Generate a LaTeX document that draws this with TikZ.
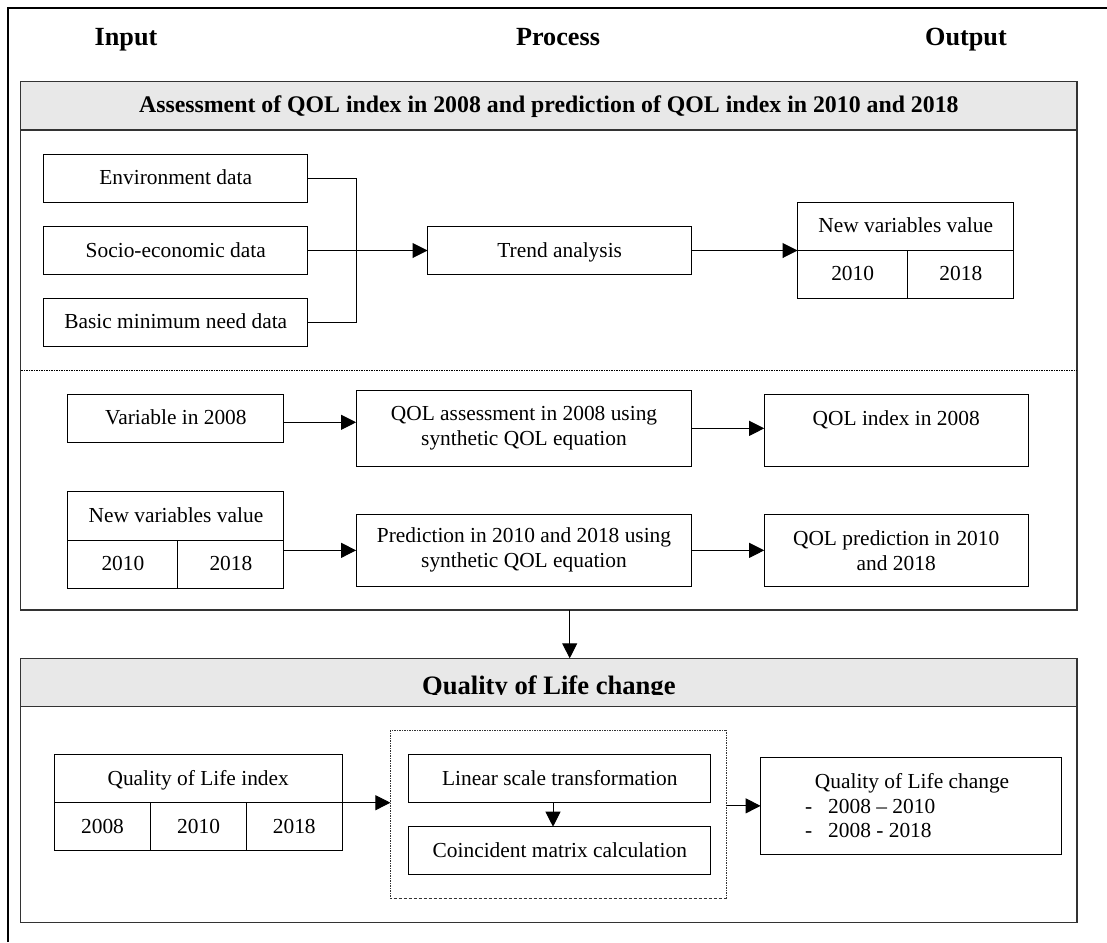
\documentclass[tikz,border=0pt]{standalone}
\usepackage{fontspec}
\setmainfont{Liberation Serif}
\usetikzlibrary{arrows.meta}

\newcommand\bodyfont{\fontsize{10.7pt}{12.5pt}\selectfont}
\newcommand\headfont{\fontsize{13.1pt}{15pt}\selectfont\bfseries}
\newcommand\bandfont{\fontsize{11.9pt}{14pt}\selectfont\bfseries}
\newcommand\bandbigfont{\fontsize{13.3pt}{16pt}\selectfont\bfseries}

\tikzset{
  sz/.style 2 args={minimum width=#1*0.5pt, minimum height=#2*0.5pt},
  cell/.style={draw, line width=0.5pt, inner sep=0pt, outer sep=0pt, font=\bodyfont, text height=0.66em, text depth=0pt},
  multi/.style={draw, line width=0.5pt, inner sep=0pt, outer sep=0pt, font=\bodyfont, align=center},
  section/.style={draw=black!80, line width=0.6pt, inner sep=0pt, outer sep=0pt},
  band/.style={section, fill=black!9},
  flow/.style={-{Triangle[length=7.5pt,width=7.5pt]}, line width=0.5pt},
  dashdot/.style={line width=0.5pt, dash pattern=on 1pt off 0.6pt on 0.3pt off 0.6pt},
}

\begin{document}
\begin{tikzpicture}[x=0.5pt, y=-0.5pt]
\useasboundingbox (0,0) rectangle (1107,942);
% 外框
\draw[line width=1pt] (8,942) -- (8,8.3) -- (1107,8.3);
% 列标题
\node[font=\headfont, anchor=base] (inp) at (126,45) {Input};
\node[font=\headfont, anchor=base] (proc) at (558,45) {Process};
\node[font=\headfont, anchor=base] (outp) at (966,45) {Output};

% 第一部分
\node[section, sz={1056.3}{528.3}] (secA) at (548.85,345.85) {};
\node[band, sz={1056.3}{48.3}, font=\bandfont, text height=0.66em, text depth=-2.5pt] (bandA) at (548.85,105.85)
  {Assessment of QOL index in 2008 and prediction of QOL index in 2010 and 2018};
\coordinate (cut) at (0,370.7);
\draw[dashdot] (secA.west |- cut) -- (secA.east |- cut);

% 输入数据
\foreach \nm/\yy/\txt in {env/178.3/Environment data, soc/250.5/Socio-economic data,
                          bmn/322.2/Basic minimum need data}
  \node[cell, sz={264.3}{48}] (\nm) at (175.75,\yy) {\txt};
\node[cell, sz={264.4}{47.6}] (trend) at (559.7,250.5) {Trend analysis};
\node[cell, sz={216.3}{47.7}] (nvAt) at (905.65,226.15) {New variables value};
\node[cell, sz={110.3}{48.3}, anchor=north west] (nvA1) at (nvAt.south west) {2010};
\node[cell, sz={106}{48.3}, anchor=north west] (nvA2) at (nvA1.north east) {2018};

\coordinate (brk) at (356.1,250.5);
\draw[line width=0.5pt] (env.east) -| (brk) |- (bmn.east);
\draw[flow] (soc.east) -- (trend.west);
\draw[flow] (trend.east) -- (trend.east -| nvAt.west);

% 评估与预测
\node[cell, sz={216}{48}] (var08) at (175.9,418.3) {Variable in 2008};
\node[multi, sz={335.8}{75.3}] (qass) at (524,428.35)
  {QOL assessment in 2008 using\\synthetic QOL equation};
\node[cell, sz={264}{71.7}, text depth=11pt] (qidx) at (896.2,430.15) {QOL index in 2008};
\node[cell, sz={216}{48.3}] (nvBt) at (175.9,515.85) {New variables value};
\node[cell, sz={110}{48.3}, anchor=north west] (nvB1) at (nvBt.south west) {2010};
\node[cell, sz={106}{48.3}, anchor=north west] (nvB2) at (nvB1.north east) {2018};
\node[multi, sz={335.8}{72.7}] (pred) at (524,550.35)
  {Prediction in 2010 and 2018 using\\synthetic QOL equation};
\node[multi, sz={264}{72.7}] (qpred) at (896.2,550.35) {QOL prediction in 2010\\and 2018};

\draw[flow] ([yshift=-2pt]var08.east) -- ([yshift=-2pt]var08.east -| qass.west);
\draw[flow] (qass.east) -- (qass.east -| qidx.west);
\draw[flow] (pred.west -| nvB2.east) -- (pred.west);
\draw[flow] (pred.east) -- (qpred.west);

% 第二部分
\node[section, sz={1056.3}{264.4}] (secB) at (548.85,790.5) {};
\node[band, sz={1056.3}{48.4}] (bandB) at (548.85,682.5) {};
\begin{scope}
  \clip (20,650) rectangle (1077,694);
  \node[font=\bandbigfont, anchor=base, inner sep=0pt] (titleB) at (548.85,694) {Quality of Life change};
\end{scope}
\coordinate (drop) at (569.7,0);
\draw[flow] (secA.south -| drop) -- (bandB.north -| drop);

\node[cell, sz={287.8}{48.4}] (qlit) at (198.2,778.5) {Quality of Life index};
\node[cell, sz={96.4}{48}, anchor=north west] (qli1) at (qlit.south west) {2008};
\node[cell, sz={95.7}{48}, anchor=north west] (qli2) at (qli1.north east) {2010};
\node[cell, sz={95.7}{48}, anchor=north west] (qli3) at (qli2.north east) {2018};

\node[section, dashdot, sz={335.9}{168.3}] (grp) at (558.35,814.15) {};
\node[cell, sz={301.8}{48.4}] (lin) at (559.8,778.5) {Linear scale transformation};
\node[cell, sz={301.8}{47.6}] (coin) at (559.8,850.5) {Coincident matrix calculation};
\node[multi, align=left, sz={301.3}{96.3}, font=\fontsize{10.7pt}{12.3pt}\selectfont] (qch) at (911.25,805.85)
  {\makebox[106.25pt][l]{\hspace{4.95pt}Quality of Life change}\\
   \makebox[11.6pt][l]{-}2008 -- 2010\\
   \makebox[11.6pt][l]{-}2008 - 2018};

\draw[flow] (qlit.south east) -- (qlit.south east -| grp.west);
\draw[flow] ([xshift=-3.4pt]lin.south) -- ([xshift=-3.4pt]coin.north);
\draw[flow] (qch.west -| grp.east) -- (qch.west);
\end{tikzpicture}
\end{document}
